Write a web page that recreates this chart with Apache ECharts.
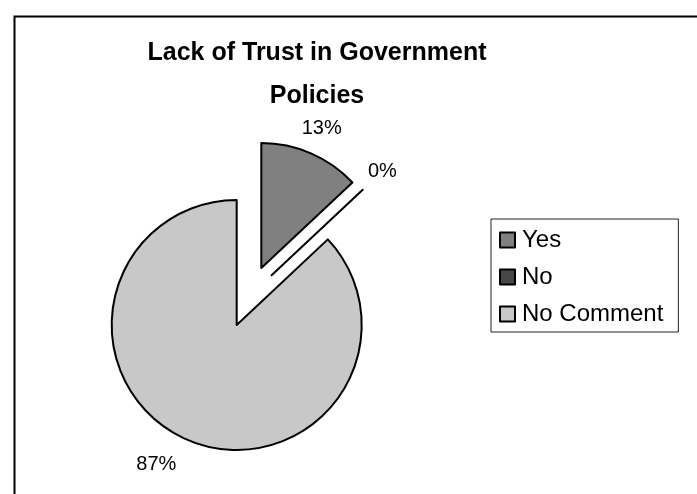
<!DOCTYPE html>
<html>
<head>
<meta charset="utf-8">
<style>
  html, body { margin: 0; padding: 0; background: #fff; }
  #chart { width: 697px; height: 494px; }
</style>
<script src="https://cdn.jsdelivr.net/npm/echarts@6/dist/echarts.min.js"></script>
</head>
<body>
<div id="chart"></div>
<script>
// Survey answers
const categories = ['Yes', 'No', 'No Comment'];
const values = [13, 0, 87];

// Slice fills, one per category
const sliceColors = ['#808080', '#474747', '#c8c8c8'];

const FONT = '"Liberation Sans", Arial, Helvetica, sans-serif';
const EXPLODE = 31;

const pieData = categories.map((name, i) => ({
  name: name,
  value: values[i],
  selected: true,
  itemStyle: { color: sliceColors[i] },
  select: { itemStyle: { color: sliceColors[i], borderColor: '#000', borderWidth: 2 } }
}));

const chart = echarts.init(document.getElementById('chart'), null, { renderer: 'canvas' });

chart.setOption({
  animation: false,
  backgroundColor: '#fff',
  title: {
    text: 'Lack of Trust in Government\nPolicies',
    left: 317,
    top: 32,
    padding: 0,
    textAlign: 'center',
    textStyle: {
      fontFamily: FONT,
      fontSize: 25,
      fontWeight: 'bold',
      color: '#000',
      lineHeight: 43
    }
  },
  legend: {
    orient: 'vertical',
    left: 491,
    top: 219,
    padding: [9, 15, 6, 8],
    itemGap: 13,
    itemWidth: 15,
    itemHeight: 15,
    icon: 'rect',
    borderColor: '#222',
    borderWidth: 1,
    selectedMode: false,
    data: categories,
    textStyle: {
      fontFamily: FONT,
      fontSize: 24,
      color: '#000',
      lineHeight: 22,
      padding: [0, 0, 0, 2]
    }
  },
  graphic: [{
    type: 'rect',
    left: 12,
    top: 14,
    shape: { width: 720, height: 520 },
    style: { fill: 'none', stroke: '#000', lineWidth: 2 },
    silent: true
  }],
  series: [{
    type: 'pie',
    center: [249, 296.5],
    radius: 125,
    startAngle: 90,
    clockwise: true,
    selectedMode: 'multiple',
    selectedOffset: EXPLODE,
    avoidLabelOverlap: false,
    emphasis: { disabled: true },
    itemStyle: { borderColor: '#000', borderWidth: 2 },
    label: {
      show: true,
      position: 'outside',
      distanceToLabelLine: 0,
      fontFamily: FONT,
      fontSize: 20,
      color: '#000',
      formatter: p => p.value + '%'
    },
    labelLine: { show: false, length: 27, length2: 0 },
    labelLayout: p => (p.dataIndex < 2 ? { align: 'center' } : {}),
    data: pieData
  }]
});
</script>
</body>
</html>
